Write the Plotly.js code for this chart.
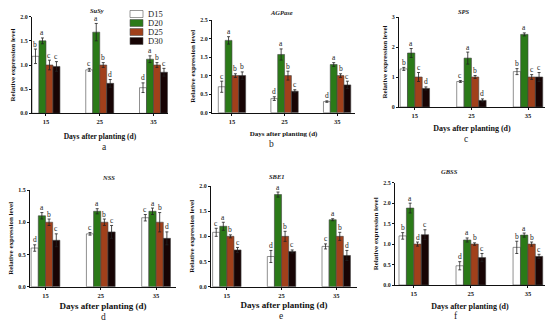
<!DOCTYPE html>
<html>
<head>
<meta charset="utf-8">
<script src="https://cdn.plot.ly/plotly-3.0.1.min.js"></script>
<style>html,body{margin:0;padding:0;background:#fff}#chart{width:550px;height:328px}</style>
</head>
<body>
<div id="chart"></div>
<script>
// ---- data ----
const groups = ['15', '25', '35'];
const seriesNames = ['D15', 'D20', 'D25', 'D30'];
const seriesColors = ['#ffffff', '#2b7a18', '#a1401b', '#170404'];
const genes = ['SuSy', 'AGPase', 'SPS', 'NSS', 'SBE1', 'GBSS'];
const panelLabels = ['a', 'b', 'c', 'd', 'e', 'f'];

// each row: one series (D15, D20, D25, D30), values by group 15/25/35
const susyMean = [[1.18, 0.90, 0.53], [1.50, 1.68, 1.12], [1.00, 1.00, 1.00], [0.97, 0.62, 0.85]];
const susyErr  = [[0.15, 0.03, 0.10], [0.06, 0.18, 0.07], [0.10, 0.05, 0.05], [0.10, 0.08, 0.08]];
const susyLet  = [['b', 'c', 'd'], ['a', 'a', 'a'], ['c', 'b', 'b'], ['c', 'd', 'c']];

const agpMean = [[0.70, 0.38, 0.30], [1.95, 1.57, 1.30], [1.00, 1.00, 1.00], [1.00, 0.58, 0.75]];
const agpErr  = [[0.15, 0.05, 0.02], [0.10, 0.15, 0.05], [0.05, 0.12, 0.05], [0.10, 0.04, 0.10]];
const agpLet  = [['c', 'd', 'd'], ['a', 'a', 'a'], ['b', 'b', 'b'], ['b', 'c', 'c']];

const spsMean = [[1.27, 0.85, 1.18], [1.80, 1.63, 2.42], [1.00, 1.00, 1.00], [0.62, 0.22, 1.00]];
const spsErr  = [[0.05, 0.03, 0.10], [0.15, 0.20, 0.05], [0.15, 0.05, 0.08], [0.05, 0.05, 0.15]];
const spsLet  = [['b', 'c', 'b'], ['a', 'a', 'a'], ['c', 'b', 'c'], ['d', 'd', 'c']];

const nssMean = [[0.60, 0.82, 1.07], [1.10, 1.17, 1.17], [1.00, 1.00, 1.00], [0.72, 0.85, 0.75]];
const nssErr  = [[0.05, 0.02, 0.05], [0.05, 0.04, 0.05], [0.05, 0.05, 0.15], [0.10, 0.10, 0.10]];
const nssLet  = [['d', 'c', 'c'], ['a', 'a', 'a'], ['b', 'b', 'b'], ['c', 'c', 'd']];

const sbeMean = [[1.08, 0.60, 0.80], [1.20, 1.83, 1.33], [1.00, 1.00, 1.00], [0.73, 0.70, 0.62]];
const sbeErr  = [[0.08, 0.12, 0.05], [0.08, 0.05, 0.02], [0.03, 0.10, 0.08], [0.05, 0.03, 0.10]];
const sbeLet  = [['c', 'd', 'c'], ['a', 'a', 'a'], ['b', 'b', 'b'], ['c', 'c', 'd']];

const gbssMean = [[1.20, 0.47, 0.92], [1.88, 1.10, 1.22], [1.00, 1.00, 1.00], [1.23, 0.67, 0.70]];
const gbssErr  = [[0.08, 0.10, 0.15], [0.12, 0.05, 0.05], [0.05, 0.03, 0.05], [0.12, 0.10, 0.05]];
const gbssLet  = [['b', 'd', 'b'], ['a', 'a', 'a'], ['d', 'b', 'b'], ['c', 'c', 'c']];

const allMean = [susyMean, agpMean, spsMean, nssMean, sbeMean, gbssMean];
const allErr = [susyErr, agpErr, spsErr, nssErr, sbeErr, gbssErr];
const allLet = [susyLet, agpLet, spsLet, nssLet, sbeLet, gbssLet];

// ---- layout geometry (pixels of the 550x328 canvas) ----
const W = 550, H = 328;
const panels = [
  {x0: 32,  x1: 168, yTop: 16.7, yBot: 113.3, xr: [-0.26, 2.27], yr: [0, 2.0], dt: 0.5, fmt: '.1f', tx: 88,  ty: 5,   lx: 100, ly: 147, xtSize: 7.5, so: 9},
  {x0: 212, x1: 355, yTop: 20,   yBot: 112.7, xr: [-0.38, 2.34], yr: [0, 2.5], dt: 0.5, fmt: '.1f', tx: 281, ty: 7,   lx: 271, ly: 144, xtSize: 7,   so: 7},
  {x0: 399, x1: 545, yTop: 17,   yBot: 107,   xr: [-0.28, 2.30], yr: [0, 3],   dt: 1,   fmt: 'd',   tx: 472, ty: 6,   lx: 470, ly: 139, xtSize: 8,   so: 7},
  {x0: 30,  x1: 176, yTop: 190,  yBot: 286.7, xr: [-0.28, 2.36], yr: [0, 1.5], dt: 0.5, fmt: '.1f', tx: 100, ty: 177, lx: 99,  ly: 323.5, xtSize: 9, so: 5},
  {x0: 211, x1: 357, yTop: 186,  yBot: 286.7, xr: [-0.29, 2.38], yr: [0, 2.0], dt: 0.5, fmt: '.1f', tx: 277, ty: 176, lx: 281, ly: 323, xtSize: 9,   so: 4},
  {x0: 395, x1: 545, yTop: 182.7,yBot: 285,   xr: [-0.33, 2.30], yr: [0, 2.5], dt: 0.5, fmt: '.1f', tx: 460, ty: 171, lx: 460, ly: 323, xtSize: 8,   so: 7}
];
const BARGAP = 0.48;
const barW = (1 - BARGAP) / 4;
const serif = 'Liberation Serif, Times New Roman, serif';

const data = [];
const annotations = [];
const shapes = [];
const layout = {
  width: W, height: H,
  margin: {l: 0, r: 0, t: 0, b: 0},
  paper_bgcolor: '#ffffff', plot_bgcolor: '#ffffff',
  showlegend: false,
  barmode: 'group', bargap: BARGAP, bargroupgap: 0,
  font: {family: serif, color: '#222'}
};

panels.forEach((p, k) => {
  const n = k === 0 ? '' : String(k + 1);
  const xa = 'x' + n, ya = 'y' + n;
  seriesNames.forEach((s, j) => {
    data.push({
      type: 'bar', name: s, x: groups, y: allMean[k][j],
      xaxis: xa, yaxis: ya,
      marker: {color: seriesColors[j], line: {color: '#444', width: 0.6}},
      error_y: {type: 'data', array: allErr[k][j], visible: true, color: '#222', thickness: 0.8, width: 1.5},
      hoverinfo: 'y'
    });
    groups.forEach((g, i) => {
      annotations.push({
        xref: xa, yref: ya, x: i + (j - 1.5) * barW, y: allMean[k][j][i] + allErr[k][j][i],
        text: allLet[k][j][i], showarrow: false, yanchor: 'bottom', yshift: -1.5,
        font: {family: serif, size: 7.5, color: '#222'}
      });
    });
  });
  layout['xaxis' + n] = {
    domain: [p.x0 / W, p.x1 / W], anchor: ya, type: 'category', range: p.xr,
    showline: true, linecolor: '#111', linewidth: 1, ticks: 'outside', ticklen: 2, tickwidth: 1, tickcolor: '#111',
    showgrid: false, zeroline: false,
    tickfont: {family: serif, size: 6.5, color: '#222', weight: 'bold'},
    title: {text: 'Days after planting (d)', standoff: p.so, font: {family: serif, size: p.xtSize, color: '#111', weight: 'bold'}}
  };
  layout['yaxis' + n] = {
    domain: [1 - p.yBot / H, 1 - p.yTop / H], anchor: xa, range: p.yr, dtick: p.dt, tick0: 0, tickformat: p.fmt,
    showline: true, linecolor: '#111', linewidth: 1, ticks: 'outside', ticklen: 2, tickwidth: 1, tickcolor: '#111',
    showgrid: false, zeroline: false,
    tickfont: {family: serif, size: 6, color: '#222', weight: 'bold'},
    title: {text: 'Relative expression level', standoff: 3, font: {family: serif, size: 7, color: '#111', weight: 'bold'}}
  };
  annotations.push({
    xref: 'paper', yref: 'paper', x: p.tx / W, y: 1 - p.ty / H, text: '<b><i>' + genes[k] + '</i></b>',
    showarrow: false, font: {family: serif, size: 6.5, color: '#222'}
  });
  annotations.push({
    xref: 'paper', yref: 'paper', x: p.lx / W, y: 1 - p.ly / H, text: panelLabels[k],
    showarrow: false, font: {family: serif, size: 9.5, color: '#222'}
  });
});

// manual compact legend (panel a)
seriesNames.forEach((s, j) => {
  const cy = 14 + j * 9;
  shapes.push({type: 'rect', xref: 'paper', yref: 'paper',
    x0: 130 / W, x1: 143 / W, y0: 1 - (cy + 3.5) / H, y1: 1 - (cy - 3.5) / H,
    fillcolor: seriesColors[j], line: {color: '#555', width: 0.6}});
  annotations.push({xref: 'paper', yref: 'paper', x: 146 / W, y: 1 - cy / H, xanchor: 'left', yanchor: 'middle',
    text: s, showarrow: false, font: {family: serif, size: 8.5, color: '#222'}});
});

layout.annotations = annotations;
layout.shapes = shapes;
Plotly.newPlot('chart', data, layout, {staticPlot: true, displayModeBar: false});
</script>
</body>
</html>
